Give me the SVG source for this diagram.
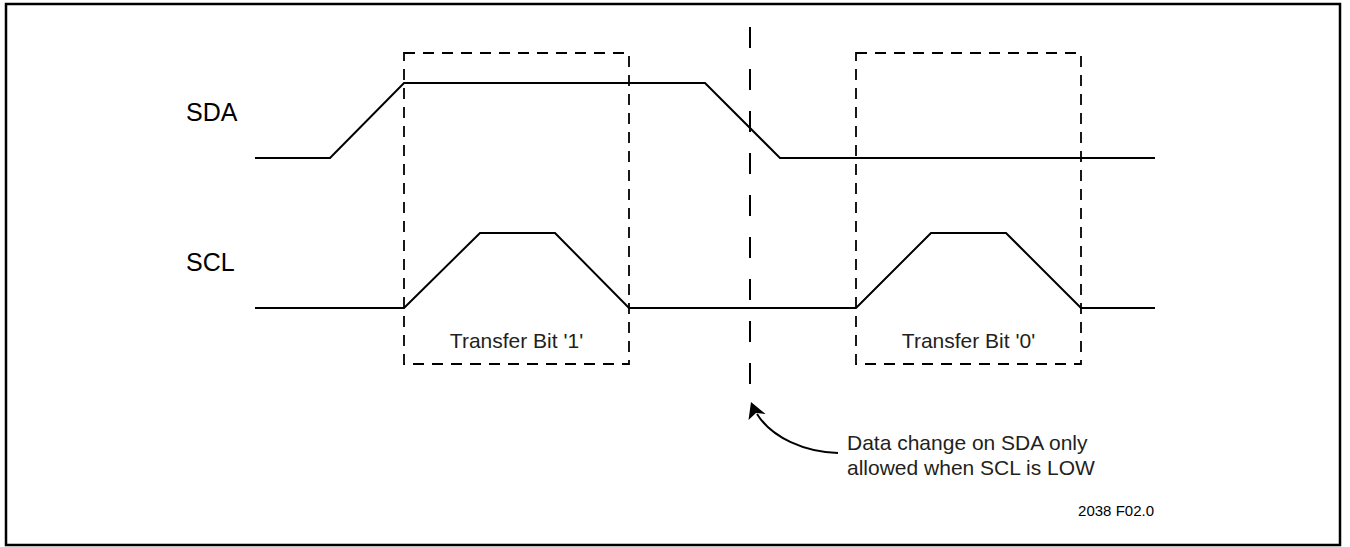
<svg xmlns="http://www.w3.org/2000/svg" width="1350" height="547" viewBox="0 0 1350 547">
  <style>
    .wave { fill: none; stroke: #000; stroke-width: 2; stroke-linejoin: miter; }
    .box { fill: none; stroke: #000; stroke-width: 1.8; stroke-dasharray: 11 8; }
    .marker-line { fill: none; stroke: #000; stroke-width: 2; stroke-dasharray: 21 21; }
    .label { font-family: "Liberation Sans", Arial, sans-serif; fill: #000; }
    .sig { font-size: 25px; }
    .note { font-size: 21px; fill: #231f20; }
    .code { font-size: 15px; }
  </style>

  <!-- frame -->
  <rect x="6" y="4" width="1334" height="541" fill="#fff" stroke="#000" stroke-width="2.5"/>

  <!-- signal names -->
  <g id="sda-label"><text class="label sig" x="186" y="121">SDA</text></g>
  <g id="scl-label"><text class="label sig" x="186" y="271">SCL</text></g>

  <!-- waveforms -->
  <g id="sda-wave">
    <polyline class="wave" points="255,158 330,158 404,83 705,83 780,158 1155,158"/>
  </g>
  <g id="scl-wave">
    <polyline class="wave" points="255,308 404,308 480,233 555,233 629,308 856,308 931,233 1006,233 1081,308 1155,308"/>
  </g>

  <!-- bit windows -->
  <g id="bit1">
    <rect class="box" x="404" y="53" width="225" height="311"/>
    <text class="label note" x="516.5" y="348" text-anchor="middle">Transfer Bit '1'</text>
  </g>
  <g id="bit0">
    <rect class="box" x="856" y="53" width="225" height="311"/>
    <text class="label note" x="968.5" y="348" text-anchor="middle">Transfer Bit '0'</text>
  </g>

  <!-- data change marker -->
  <g id="change-marker">
    <line class="marker-line" x1="750" y1="27" x2="750" y2="387"/>
  </g>

  <g id="note">
    <text class="label note" x="847" y="450">Data change on SDA only</text>
    <text class="label note" x="847" y="475">allowed when SCL is LOW</text>
  </g>

  <!-- connectors -->
  <g id="connectors">
    <path d="M838,453 C805,452 772,438 757,414" fill="none" stroke="#000" stroke-width="2"/>
    <polygon points="751,402 748.5,420 756,413 765.5,414" fill="#000"/>
  </g>

  <g id="figure-code"><text class="label code" x="1154" y="516" text-anchor="end">2038 F02.0</text></g>
</svg>
